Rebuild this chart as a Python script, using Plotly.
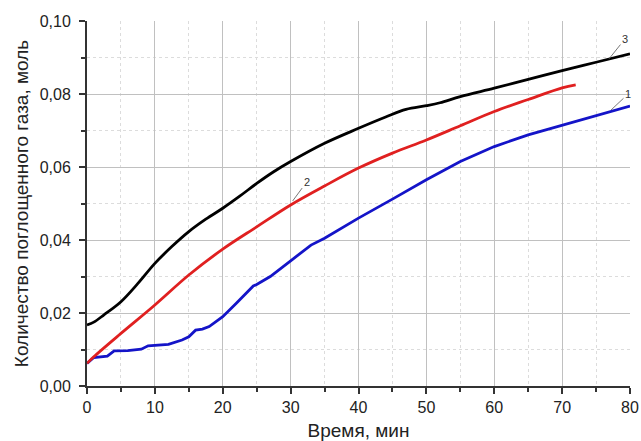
import plotly.graph_objects as go

# Time, min
t_black = [0, 1, 2.5, 5, 7.5, 10, 12.5, 15, 17.5, 20, 22.5, 25, 27.5, 30, 35, 40,
           44, 47, 50, 52, 55, 60, 65, 70, 75, 80]
gas_black = [0.0167, 0.0175, 0.0195, 0.0231, 0.0281, 0.0336, 0.0382, 0.0423, 0.0457,
             0.0487, 0.0520, 0.0555, 0.0587, 0.0615, 0.0665, 0.0706, 0.0737, 0.0758,
             0.0768, 0.0776, 0.0793, 0.0816, 0.0840, 0.0864, 0.0887, 0.0910]

t_red = [0, 1, 5, 10, 15, 20, 25, 30, 35, 40, 45, 50, 55, 60, 65, 70, 72]
gas_red = [0.0062, 0.0080, 0.0144, 0.0222, 0.0304, 0.0375, 0.0436, 0.0496, 0.0548,
           0.0597, 0.0638, 0.0674, 0.0713, 0.0752, 0.0785, 0.0817, 0.0825]

t_blue = [0, 1, 3, 4, 6, 8, 9, 10, 12, 14, 15, 16, 17, 18, 19, 20, 22, 24, 24.5, 25,
          27, 30, 33, 35, 40, 45, 50, 55, 60, 65, 70, 75, 80]
gas_blue = [0.0062, 0.0078, 0.0082, 0.0096, 0.0097, 0.0101, 0.0110, 0.0111, 0.0114,
            0.0126, 0.0135, 0.0153, 0.0156, 0.0163, 0.0176, 0.0190, 0.0227, 0.0265,
            0.0274, 0.0278, 0.0300, 0.0343, 0.0386, 0.0405, 0.0460, 0.0512, 0.0565,
            0.0615, 0.0656, 0.0688, 0.0715, 0.0741, 0.0767]

x_ticks = [0, 10, 20, 30, 40, 50, 60, 70, 80]
y_ticks = [0.00, 0.02, 0.04, 0.06, 0.08, 0.10]

FONT = "Liberation Sans, Arial, sans-serif"

fig = go.Figure()
fig.add_trace(go.Scatter(x=t_blue, y=gas_blue, mode="lines",
                         line=dict(color="#1414c8", width=2.8)))
fig.add_trace(go.Scatter(x=t_red, y=gas_red, mode="lines", line_shape="spline",
                         line=dict(color="#e02020", width=2.8)))
fig.add_trace(go.Scatter(x=t_black, y=gas_black, mode="lines", line_shape="spline",
                         line=dict(color="#000000", width=2.8)))

# Curve numbers with short leader lines
labels = [("1", 77.2, 0.0756, 17, -16),
          ("2", 30.3, 0.0507, 14, -19),
          ("3", 76.9, 0.0896, 16, -20)]
for txt, lx, ly, ax, ay in labels:
    fig.add_annotation(x=lx, y=ly, text=txt, showarrow=True, arrowhead=0,
                       arrowwidth=0.8, arrowcolor="#555555", ax=ax, ay=ay,
                       font=dict(family=FONT, size=11, color="#333333"))

axis_common = dict(
    showline=True, linecolor="#333333", linewidth=2,
    ticks="outside", ticklen=6, tickwidth=1.5, tickcolor="#333333",
    showgrid=True, gridcolor="#c0c0c0", gridwidth=1,
    zeroline=False, mirror=False, automargin=False,
    tickfont=dict(family=FONT, size=16, color="#222222"),
)

fig.update_xaxes(range=[0, 80], tickvals=x_ticks,
                 title=dict(text="Время, мин", font=dict(family=FONT, size=19, color="#222222"),
                            standoff=13),
                 minor=dict(dtick=5, ticks="outside", ticklen=4, tickcolor="#333333",
                            showgrid=True, gridcolor="#dcdcdc", griddash="dot"),
                 **axis_common)
fig.update_yaxes(range=[0, 0.1], tickvals=y_ticks, tickformat=".2f", ticklabelstandoff=5,
                 title=dict(text="Количество поглощенного газа, моль",
                            font=dict(family=FONT, size=19, color="#222222"), standoff=6),
                 minor=dict(dtick=0.01, ticks="outside", ticklen=4, tickcolor="#333333",
                            showgrid=True, gridcolor="#dcdcdc", griddash="dot"),
                 **axis_common)

fig.update_layout(
    width=641, height=441,
    margin=dict(l=87, r=11, t=21, b=55),
    plot_bgcolor="white", paper_bgcolor="white",
    showlegend=False, separators=", ",
)

fig.write_html("out.html")
